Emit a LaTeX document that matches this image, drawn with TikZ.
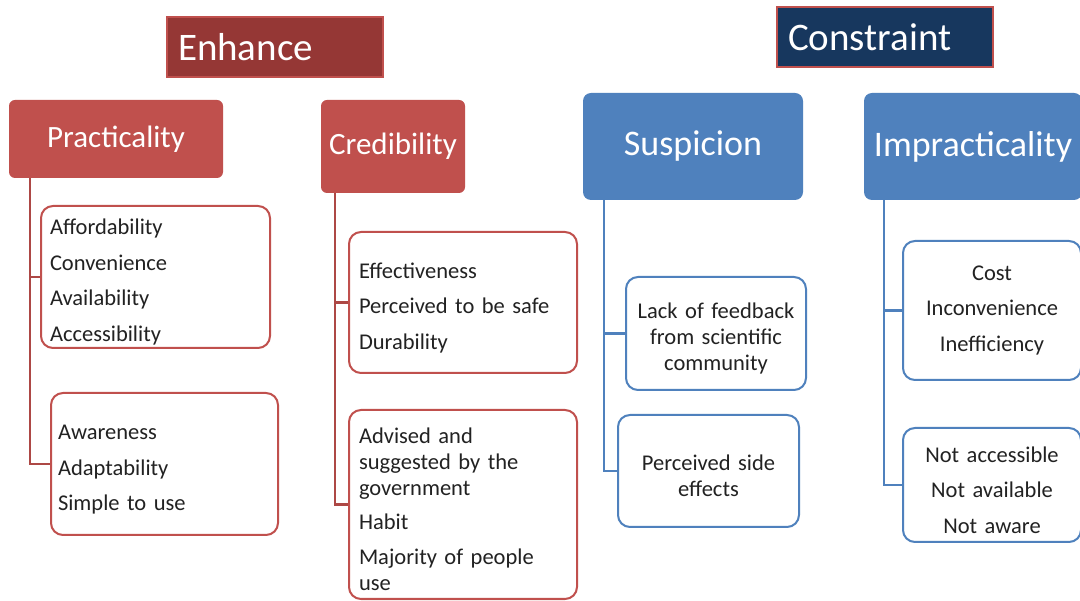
\documentclass[tikz,border=0pt]{standalone}
\usepackage{fontspec}
\setmainfont{Carlito}
\usepackage{tikz}

\definecolor{hdred}{HTML}{C0504D}
\definecolor{topred}{HTML}{953735}
\definecolor{hdblue}{HTML}{4F81BD}
\definecolor{topnavy}{HTML}{17375E}
\definecolor{itemtext}{HTML}{222222}

\begin{document}
\begin{tikzpicture}[x=1pt, y=-1pt,
    toplabel/.style={rectangle, draw=hdred, line width=2pt, text=white, font=\fontsize{39}{44}\selectfont,
        minimum width=216pt, minimum height=60pt, inner xsep=11pt, text width=194pt, align=left},
    redhead/.style={rectangle, rounded corners=6pt, fill=hdred, text=white, font=\fontsize{31}{36}\selectfont, inner sep=0pt},
    bluehead/.style={rectangle, rounded corners=8pt, fill=hdblue, text=white, font=\fontsize{36}{40}\selectfont, inner sep=0pt},
    redbox/.style={rectangle, rounded corners=12pt, draw=hdred, line width=2pt, fill=white, text=itemtext,
        font=\fontsize{22.5}{26}\selectfont, align=left, inner sep=0pt},
    bluebox/.style={rectangle, rounded corners=12pt, draw=hdblue, line width=2pt, fill=white, text=itemtext,
        font=\fontsize{22.5}{26}\selectfont, align=center, inner sep=0pt},
    lowered/.style={execute at begin node={\rule{0pt}{26pt}}},
    redline/.style={draw=hdred!90!black, line width=2.5pt},
    blueline/.style={draw=hdblue, line width=2.5pt}]
    \clip (0,0) rectangle (1080,601);
    \fill[white] (0,0) rectangle (1080,601);

    % Top labels
    \node[toplabel, fill=topred] (enhance) at (275,47) {Enhance};
    \node[toplabel, fill=topnavy] (constraint) at (885,37) {Constraint};

    % Enhance headings
    \node[redhead, minimum width=214pt, minimum height=78pt] (prac) at (116,139) {Practicality};
    \node[redhead, minimum width=144pt, minimum height=93pt] (cred) at (393,146.5) {Credibility};

    % Constraint headings
    \node[bluehead, minimum width=220pt, minimum height=107pt] (susp) at (693,146.5) {Suspicion};
    \node[bluehead, minimum width=218pt, minimum height=107pt] (impr) at (973,146.5) {Impracticality};

    % Practicality items
    \node[redbox, lowered, minimum width=229pt, minimum height=142pt, text width=211pt] (pracA) at (155.5,277)
        {Affordability\\[9.5pt] Convenience\\[9.5pt] Availability\\[9.5pt] Accessibility};
    \node[redbox, lowered, minimum width=227pt, minimum height=142pt, text width=213pt] (pracB) at (164.5,464)
        {Awareness\\[9.5pt] Adaptability\\[9.5pt] Simple to use};

    % Credibility items
    \node[redbox, lowered, minimum width=228pt, minimum height=141pt, text width=208pt] (credA) at (463,302.5)
        {Effectiveness\\[9.5pt] Perceived to be safe\\[9.5pt] Durability};
    \node[redbox, lowered, minimum width=228pt, minimum height=189pt, text width=208pt] (credB) at (463,504.5)
        {Advised and\\ suggested by the\\ government\\[8pt] Habit\\[9pt] Majority of people\\ use};

    % Suspicion items
    \node[bluebox, lowered, minimum width=180pt, minimum height=113pt, text width=170pt] (suspA) at (716,333.5)
        {Lack of feedback\\ from scientific\\ community};
    \node[bluebox, lowered, minimum width=181pt, minimum height=112pt, text width=170pt] (suspB) at (708.5,471)
        {Perceived side\\ effects};

    % Impracticality items
    \node[bluebox, minimum width=178pt, minimum height=139pt, text width=170pt] (imprA) at (992,310.5)
        {Cost\\[9.5pt] Inconvenience\\[9.5pt] Inefficiency};
    \node[bluebox, lowered, minimum width=178pt, minimum height=114pt, text width=170pt] (imprB) at (992,485)
        {Not accessible\\[9.5pt] Not available\\[9.5pt] Not aware};

    % Connectors
    \draw[redline] ([xshift=21pt]prac.south west) |- (pracA.west);
    \draw[redline] ([xshift=21pt]prac.south west) |- (pracB.west);
    \draw[redline] ([xshift=14pt]cred.south west) |- (credA.west);
    \draw[redline] ([xshift=14pt]cred.south west) |- (credB.west);
    \draw[blueline] ([xshift=21pt]susp.south west) |- (suspA.west);
    \draw[blueline] ([xshift=21pt]susp.south west) |- (suspB.west);
    \draw[blueline] ([xshift=20pt]impr.south west) |- (imprA.west);
    \draw[blueline] ([xshift=20pt]impr.south west) |- (imprB.west);
\end{tikzpicture}
\end{document}
